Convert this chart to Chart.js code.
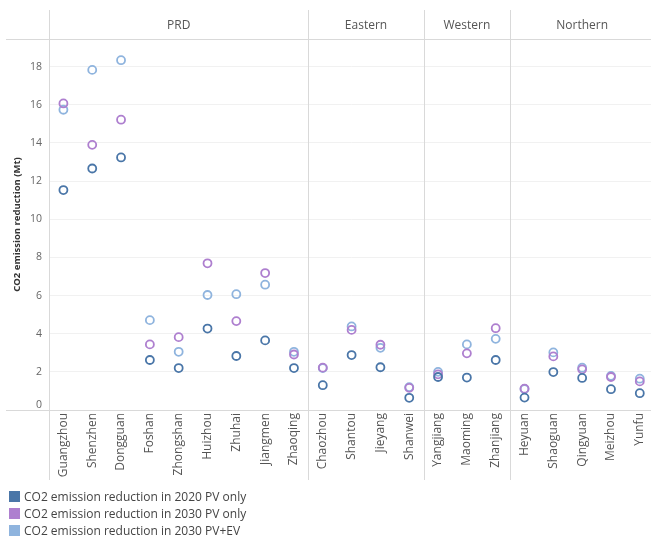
<!DOCTYPE html>
<html>
<head>
<meta charset="utf-8">
<script src="https://cdn.jsdelivr.net/npm/chart.js@4.4.1/dist/chart.umd.min.js"></script>
<style>
  html, body { margin: 0; padding: 0; background: #fff; }
  #wrap { position: relative; width: 651px; height: 538px; overflow: hidden; }
  #c { position: absolute; left: 0; top: 0; }
  .lg { position: absolute; left: 9px; font: 12px "Open Sans", sans-serif; color: #444; white-space: nowrap; }
  .lg i { display: inline-block; width: 11px; height: 11px; vertical-align: middle; margin-right: 4px; position: relative; top: -1px; }
</style>
</head>
<body>
<div id="wrap">
  <canvas id="c" width="660" height="538"></canvas>
  <div id="legend"></div>
</div>
<script>
// Cities, grouped by region (in column order)
const cities = ['Guangzhou','Shenzhen','Dongguan','Foshan','Zhongshan','Huizhou','Zhuhai','Jiangmen','Zhaoqing',
                'Chaozhou','Shantou','Jieyang','Shanwei',
                'Yangjiang','Maoming','Zhanjiang',
                'Heyuan','Shaoguan','Qingyuan','Meizhou','Yunfu'];
const regions = ['PRD','Eastern','Western','Northern'];
const regionSizes = [9, 4, 3, 5];

// CO2 emission reduction (Mt)
const pv2020 = [11.53,12.66,13.24,2.62,2.20,4.27,2.83,3.65,2.20, 1.30,2.88,2.24,0.64, 1.73,1.70,2.62, 0.65,1.99,1.68,1.09,0.88];
const pv2030 = [16.07,13.90,15.22,3.44,3.82,7.69,4.66,7.18,2.91, 2.22,4.20,3.42,1.16, 1.87,2.97,4.29, 1.12,2.81,2.13,1.73,1.50];
const pvev2030 = [15.74,17.83,18.34,4.71,3.05,6.03,6.07,6.57,3.05, 2.20,4.38,3.26,1.20, 2.00,3.44,3.73, 1.10,3.02,2.22,1.79,1.64];

const seriesNames = ['CO2 emission reduction in 2020 PV only',
                     'CO2 emission reduction in 2030 PV only',
                     'CO2 emission reduction in 2030 PV+EV'];
const seriesColors = ['#4a76a8', '#ae7fcf', '#8fb4de'];
const yTicks = [0, 2, 4, 6, 8, 10, 12, 14, 16, 18];

const FONT = '"Open Sans", sans-serif';
const LINE = '#d9d9d9';

// legend
const legend = document.getElementById('legend');
const legendTops = [488, 505, 522];
seriesNames.forEach((n, i) => {
  const d = document.createElement('div');
  d.className = 'lg';
  d.style.top = legendTops[i] + 'px';
  d.innerHTML = '<i style="background:' + seriesColors[i] + '"></i>' + n;
  legend.appendChild(d);
});

// region headers, separators and the shifted zero label
const framePlugin = {
  id: 'frame',
  beforeDatasetsDraw(chart) {
    const ctx = chart.ctx, a = chart.chartArea, x = chart.scales.x;
    const half = (x.getPixelForValue(1) - x.getPixelForValue(0)) / 2;
    ctx.save();
    ctx.strokeStyle = LINE;
    ctx.lineWidth = 1;
    ctx.beginPath();
    ctx.moveTo(6, Math.round(a.top) + 0.5); ctx.lineTo(chart.width, Math.round(a.top) + 0.5);
    ctx.moveTo(6, Math.round(a.bottom) + 0.5); ctx.lineTo(chart.width, Math.round(a.bottom) + 0.5);
    let idx = 0;
    const bounds = [a.left];
    regionSizes.forEach(s => { idx += s; bounds.push(x.getPixelForValue(idx - 1) + half); });
    bounds.slice(0, -1).forEach(b => {
      const px = Math.round(b) + 0.5;
      ctx.moveTo(px, 10); ctx.lineTo(px, 480);
    });
    ctx.stroke();
    // headers
    ctx.fillStyle = '#555';
    ctx.font = '12px ' + FONT;
    ctx.textAlign = 'center';
    ctx.textBaseline = 'middle';
    regions.forEach((r, i) => {
      ctx.fillText(r, (bounds[i] + bounds[i + 1]) / 2, 26);
    });
    // zero label sits just above the axis line
    ctx.fillStyle = '#666';
    ctx.font = '10.5px ' + FONT;
    ctx.textAlign = 'right';
    ctx.fillText('0', a.left - 7, chart.scales.y.getPixelForValue(0) - 5);
    ctx.restore();
  }
};

const datasets = [pv2020, pv2030, pvev2030].map((d, i) => ({
  label: seriesNames[i],
  data: d,
  showLine: false,
  borderColor: seriesColors[i],
  backgroundColor: 'rgba(0,0,0,0)',
  pointBorderColor: seriesColors[i],
  pointBackgroundColor: 'rgba(0,0,0,0)',
  pointRadius: 4,
  pointHoverRadius: 4,
  pointBorderWidth: 1.8,
  order: [1, 2, 3][i]
}));

new Chart(document.getElementById('c'), {
  type: 'line',
  data: { labels: cities, datasets },
  plugins: [framePlugin],
  options: {
    responsive: false,
    animation: false,
    layout: { padding: { top: 39, left: 0, right: 0, bottom: 57 } },
    plugins: { legend: { display: false }, tooltip: { enabled: false } },
    scales: {
      x: {
        type: 'category',
        offset: true,
        grid: { display: false, drawTicks: false },
        border: { display: false },
        ticks: {
          autoSkip: false, minRotation: 90, maxRotation: 90, padding: 3,
          color: '#555', font: { family: FONT, size: 12 }
        },
        afterFit(s) { s.height = 71; }
      },
      y: {
        min: 0, max: 19.45,
        grid: {
          drawTicks: false,
          color: c => (c.tick && yTicks.includes(c.tick.value) && c.tick.value !== 0) ? '#f1f1f1' : 'rgba(0,0,0,0)'
        },
        border: { display: false },
        afterBuildTicks(s) { s.ticks = yTicks.map(v => ({ value: v })); },
        ticks: {
          padding: 7, color: '#666', font: { family: FONT, size: 10.5 },
          callback: v => (v === 0 ? '' : String(v))
        },
        title: {
          display: true, text: 'CO2 emission reduction (Mt)',
          color: '#333', font: { family: FONT, size: 9.5, weight: 'bold' },
          padding: { top: 12, bottom: 0 }
        },
        afterFit(s) { s.width = 49; }
      }
    }
  }
});
</script>
</body>
</html>
